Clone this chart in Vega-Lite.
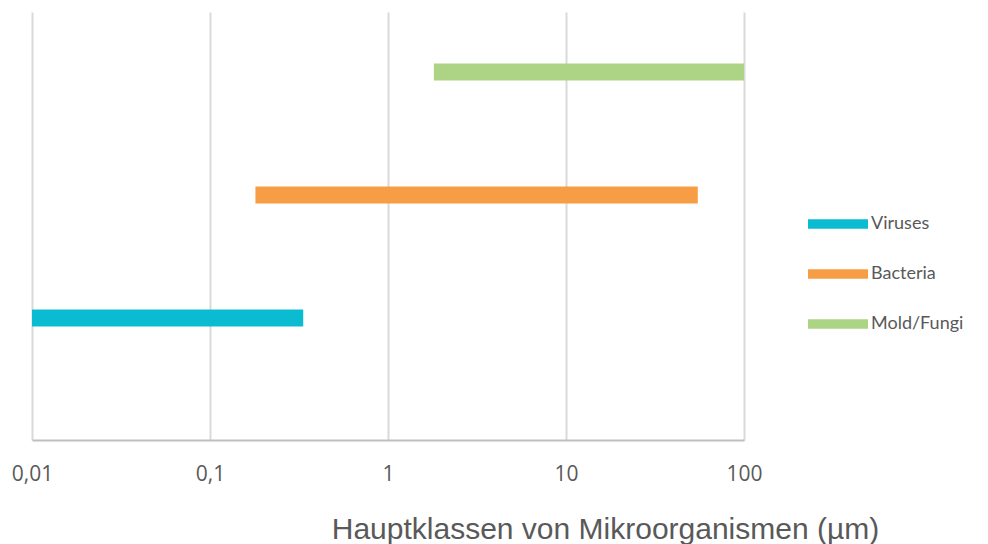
{
  "$schema": "https://vega.github.io/schema/vega-lite/v6.json",
  "width": 712,
  "height": 428,
  "autosize": "none",
  "padding": {"left": 32, "top": 12, "right": 244, "bottom": 104},
  "background": "white",
  "data": {
    "values": [
      {"cls": "Viruses", "min": 0.01, "max": 0.334},
      {"cls": "Bacteria", "min": 0.18, "max": 55},
      {"cls": "Mold/Fungi", "min": 1.81, "max": 100}
    ]
  },
  "mark": {"type": "bar"},
  "encoding": {
    "y": {
      "field": "cls",
      "type": "nominal",
      "sort": ["Mold/Fungi", "Bacteria", "Viruses"],
      "scale": {"paddingInner": 0.862, "paddingOuter": 0.671, "align": 0.312},
      "axis": null
    },
    "x": {
      "field": "min",
      "type": "quantitative",
      "scale": {"type": "log", "domain": [0.01, 100], "nice": false},
      "axis": {
        "values": [0.01, 0.1, 1, 10, 100],
        "labelExpr": "replace(toString(datum.value), '.', ',')",
        "labelFont": "Open Sans",
        "labelFontSize": 21,
        "labelColor": "#595959",
        "labelPadding": 23,
        "labelFlush": false,
        "ticks": false,
        "domainColor": "#BFBFBF",
        "domainWidth": 2,
        "gridColor": "#D9D9D9",
        "gridWidth": 2,
        "title": "Hauptklassen von Mikroorganismen (µm)",
        "titleFont": "Liberation Sans",
        "titleFontWeight": "normal",
        "titleFontSize": 30,
        "titleColor": "#595959",
        "titleAlign": "center",
        "titleBaseline": "alphabetic",
        "titleX": 573,
        "titleY": 98
      }
    },
    "x2": {"field": "max"},
    "color": {
      "field": "cls",
      "type": "nominal",
      "scale": {
        "domain": ["Viruses", "Bacteria", "Mold/Fungi"],
        "range": ["#0BBBD1", "#F79D45", "#ADD484"]
      },
      "legend": {
        "title": null,
        "orient": "none",
        "legendX": 776,
        "legendY": 182,
        "symbolType": "M-1,-0.16H1V0.16H-1Z",
        "symbolSize": 3600,
        "symbolStrokeWidth": 0,
        "symbolOpacity": 1,
        "labelFont": "Lato",
        "labelFontSize": 18,
        "labelColor": "#595959",
        "labelOffset": 3,
        "rowPadding": 11
      }
    }
  },
  "config": {"view": {"stroke": null}}
}
